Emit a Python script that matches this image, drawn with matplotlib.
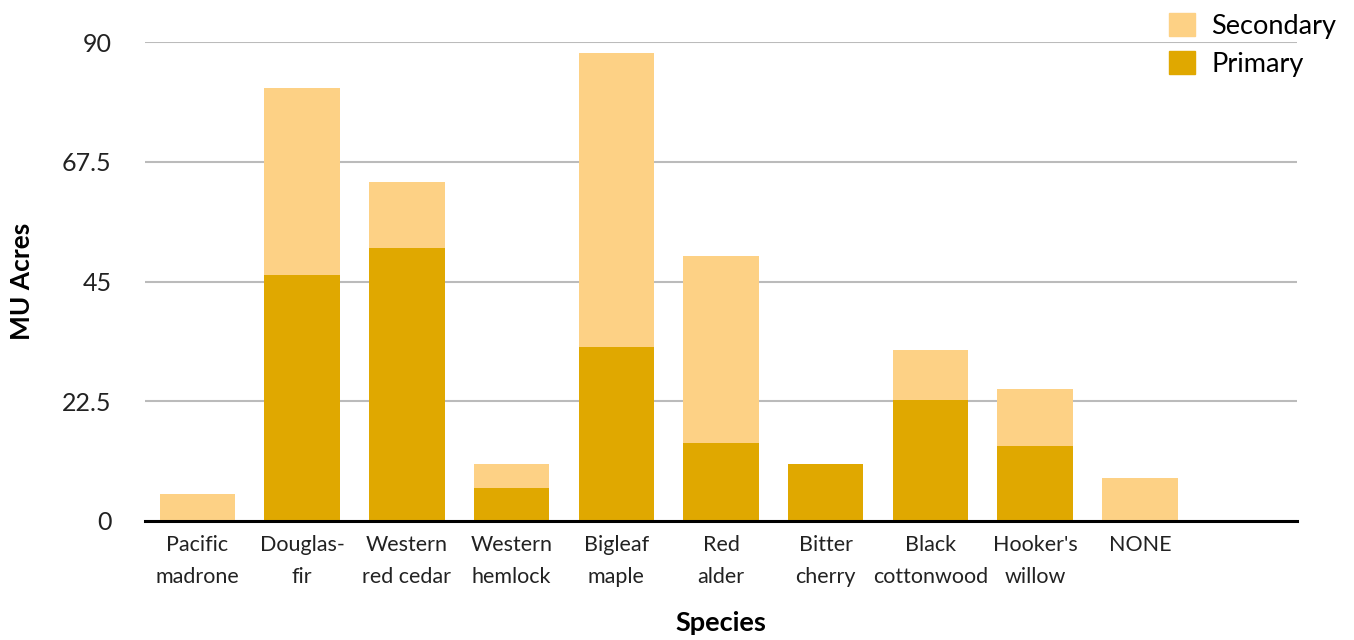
import matplotlib
matplotlib.use("Agg")
import matplotlib.pyplot as plt
import numpy as np
from matplotlib.patches import Patch

plt.rcParams['font.family'] = ['Lato', 'DejaVu Sans']

species = ["Pacific\nmadrone", "Douglas-\nfir", "Western\nred cedar", "Western\nhemlock",
           "Bigleaf\nmaple", "Red\nalder", "Bitter\ncherry", "Black\ncottonwood",
           "Hooker's\nwillow", "NONE", ""]
primary = [0, 46.2, 51.3, 6.2, 32.7, 14.7, 10.7, 22.7, 14.1, 0, 0]
secondary = [5.1, 35.2, 12.4, 4.5, 55.2, 35.1, 0, 9.4, 10.7, 8.1, 0]
yticks = [0, 22.5, 45, 67.5, 90]
ytick_labels = ["0", "22.5", "45", "67.5", "90"]

c_primary = "#E0A800"
c_secondary = "#FDD185"

fig = plt.figure(figsize=(13.54, 6.4), dpi=100)
ax = fig.add_axes([145/1354, 1-521/640, (1297-145)/1354, (521-42)/640])

x = np.arange(len(species))
w = 0.72
ax.bar(x, primary, width=w, color=c_primary, zorder=2)
ax.bar(x, secondary, width=w, bottom=primary, color=c_secondary, zorder=2)

ax.set_xlim(-0.5, len(species) - 0.5)
ax.set_ylim(0, 90)
ax.set_yticks(yticks)
ax.set_yticklabels(ytick_labels, fontsize=18, color="#222222")
ax.set_xticks(x)
ax.set_xticklabels(species, fontsize=15.5, color="#222222", linespacing=1.75)
ax.tick_params(axis='both', length=0)
ax.tick_params(axis='y', pad=24)
ax.tick_params(axis='x', pad=10)

for s in ['top', 'right', 'left']:
    ax.spines[s].set_visible(False)
ax.spines['bottom'].set_linewidth(2.2)
ax.spines['bottom'].set_color("#000000")
ax.spines['bottom'].set_zorder(3)

ax.yaxis.grid(True, color="#BBBBBB", linewidth=1.5, zorder=0)
ax.set_axisbelow(True)

ax.set_ylabel("MU Acres", fontsize=19, fontweight='bold', va='center')
ax.set_xlabel("Species", fontsize=19.5, fontweight='bold', va='center')
ax.yaxis.set_label_coords((22 - 145) / 1152, 0.5)
ax.xaxis.set_label_coords(0.5, -102 / 479)

handles = [Patch(color=c_secondary, label="Secondary"), Patch(color=c_primary, label="Primary")]
fig.legend(handles=handles, loc='upper right', bbox_to_anchor=(1.0, 1.0 + 5/640),
           frameon=False, fontsize=19.5, handlelength=0.95, handleheight=0.95,
           handletextpad=0.6, labelspacing=0.45, borderaxespad=0.25)

fig.savefig("out.png", dpi=100)
